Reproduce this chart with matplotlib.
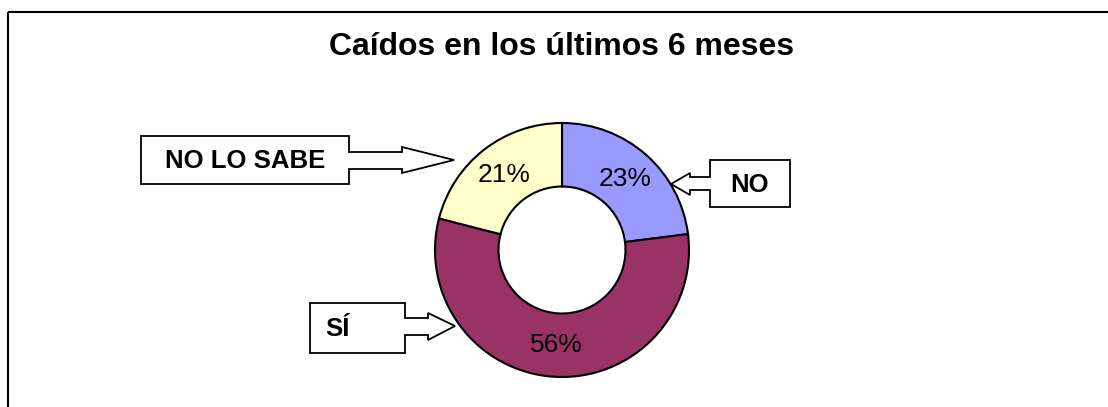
import matplotlib.pyplot as plt
from matplotlib.patches import Polygon, Rectangle

plt.rcParams['font.family'] = ['Liberation Sans', 'DejaVu Sans']

# data
labels = ['NO', 'SÍ', 'NO LO SABE']
values = [23, 56, 21]
colors = ['#9999FF', '#993366', '#FFFFCC']
title = 'Caídos en los últimos 6 meses'

W, H = 1108, 407
fig = plt.figure(figsize=(W / 100, H / 100), dpi=100)

# overlay in pixel coordinates for frame, title and callouts
ov = fig.add_axes([0, 0, 1, 1])
ov.set_xlim(0, W)
ov.set_ylim(H, 0)
ov.axis('off')

ov.add_patch(Rectangle((8, 12), 1300, 600, fill=False, edgecolor='black', lw=1.5))
ov.text(562, 47, title, ha='center', va='center', fontsize=23, fontweight='bold')

# donut
cx, cy, r = 562, 250, 127 * 1.02
pax = fig.add_axes([(cx - r) / W, (H - cy - r) / H, 2 * r / W, 2 * r / H])
wedges, texts, autotexts = pax.pie(
    values, colors=colors, startangle=90, counterclock=False,
    autopct='%d%%', pctdistance=0.75,
    wedgeprops=dict(width=0.5, edgecolor='black', linewidth=1.5),
    textprops=dict(fontsize=19, color='black'))
pax.set_xlim(-1.02, 1.02)
pax.set_ylim(-1.02, 1.02)
pax.set_aspect('equal')

# callout boxes with block arrows
callouts = {
    'NO LO SABE': ([(141, 136), (349, 136), (349, 152), (402, 152), (402, 147),
                    (454, 160), (402, 173), (402, 169), (349, 169), (349, 184),
                    (141, 184)], (245, 161)),
    'NO': ([(710, 160), (790, 160), (790, 207), (710, 207), (710, 190),
            (690, 190), (690, 195), (671, 184), (690, 173), (690, 177),
            (710, 177)], (750, 185)),
    'SÍ': ([(310, 303), (405, 303), (405, 318), (428, 318), (428, 313),
            (455, 326), (428, 340), (428, 335), (405, 335), (405, 353),
            (310, 353)], (337, 329)),
}
for lab in labels:
    pts, (tx, ty) = callouts[lab]
    ov.add_patch(Polygon(pts, closed=True, facecolor='white',
                         edgecolor='black', lw=1.3, zorder=3))
    ov.text(tx, ty, lab, ha='center', va='center', fontsize=18.5,
            fontweight='bold', zorder=4)

fig.savefig('out.png', dpi=100)
